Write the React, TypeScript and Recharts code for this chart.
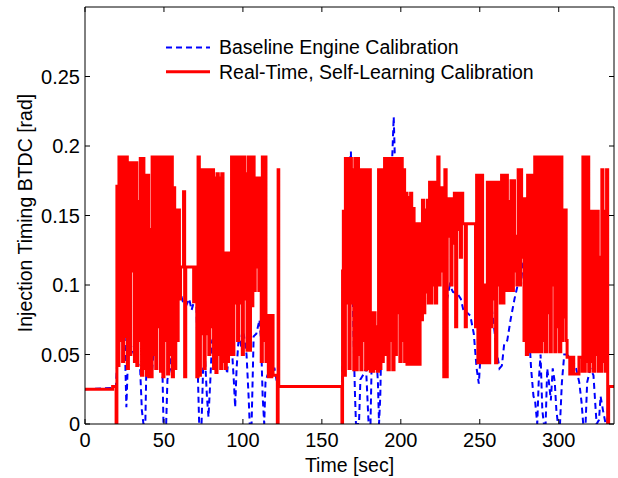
import React from 'react';
import { LineChart, Line, XAxis, YAxis } from 'recharts';

const xTicks = [0, 50, 100, 150, 200, 250, 300];
const yTicks = [0, 0.05, 0.1, 0.15, 0.2, 0.25];
const yTickLabels = ['0', '0.05', '0.1', '0.15', '0.2', '0.25'];
const seriesNames = ['Baseline Engine Calibration', 'Real-Time, Self-Learning Calibration'];
const xLabel = 'Time [sec]';
const yLabel = 'Injection Timing BTDC [rad]';

// Baseline engine calibration: [time s, injection timing rad]
const baselinePoints: [number, number][] = [
  [0, 0.025], [19.5, 0.026], [20.2, 0.04], [21, 0.06], [22, 0.08], [23.3, 0.095], [24.3, 0.113],
  [25.2, 0.06], [26.2, 0.012], [27, 0.04], [28, 0.06], [29.5, 0.055], [31, 0.05], [33, 0.045],
  [34.9, 0.04], [36, 0.01], [37, 0], [38.2, 0], [39, 0.05], [40.5, 0.04], [42.3, 0.036], [43.3, 0.05],
  [44.5, 0.085], [46.5, 0.108], [47.6, 0.095], [48.6, 0.065], [49.7, 0], [51.4, 0], [52.2, 0.032],
  [54, 0.04], [55.5, 0.085], [57, 0.098], [58.5, 0.09], [60.3, 0.095], [62, 0.088], [64, 0.085],
  [66, 0.09], [67.5, 0.082], [69, 0.088], [70.5, 0.09], [71.6, 0.03], [72.3, 0], [73.8, 0],
  [74.8, 0.04], [76, 0.048], [77.2, 0.02], [78.2, 0.005], [79.3, 0.03], [80.5, 0.06], [82, 0.063],
  [84, 0.05], [85.6, 0.06], [87.5, 0.065], [89, 0.045], [90, 0.036], [91.5, 0.06], [93, 0.055],
  [94.3, 0.03], [95.1, 0.012], [96, 0.04], [97.5, 0.065], [99, 0.055], [100.5, 0.065], [102.3, 0.05],
  [103.6, 0.02], [104.3, 0], [105.5, 0], [106.8, 0.063], [108.5, 0.065], [110.5, 0.075], [111.5, 0.06],
  [112.5, 0.02], [113.5, 0], [114.3, 0.03], [115.5, 0.035], [118, 0.04], [120, 0.04], [121.5, 0.03],
  [122.7, 0.027], [162.6, 0.027],
  [163.2, 0.045], [164.5, 0.1], [165.5, 0.14], [166.5, 0.17], [168.4, 0.196], [169.2, 0.12], [170, 0.065],
  [171, 0.02], [171.6, 0], [173.5, 0], [174.4, 0.032], [176, 0.035], [178, 0.04], [178.8, 0.02],
  [179.6, 0], [180.8, 0], [181.8, 0.06], [183, 0.045], [184.5, 0.05], [185.5, 0.03], [186.2, 0],
  [187, 0.02], [188, 0.08], [189.5, 0.1], [191.3, 0.12], [193, 0.15], [194.5, 0.19], [195.5, 0.221],
  [196.5, 0.18], [197.5, 0.16], [199, 0.137], [200.5, 0.11], [202, 0.094], [204, 0.088], [206, 0.09],
  [208, 0.085], [210, 0.09], [212.4, 0.092], [215, 0.09], [218, 0.095], [221, 0.113], [223, 0.125],
  [225, 0.142], [226.5, 0.125], [228, 0.1], [229.3, 0.09], [231, 0.1], [233, 0.095], [235.7, 0.094],
  [238, 0.09], [240, 0.08], [242, 0.08], [244, 0.078], [246.2, 0.065], [248, 0.04], [249.4, 0.029],
  [250.5, 0.05], [253, 0.07], [255, 0.085], [256.8, 0.09], [259, 0.07], [261, 0.05], [262.5, 0.04],
  [264, 0.042], [265.5, 0.058], [267.4, 0.06], [269.5, 0.075], [272, 0.09], [274, 0.1], [276.9, 0.116],
  [278, 0.1], [279.5, 0.085], [281, 0.07], [282.5, 0.04], [284, 0.02], [285, 0.017], [286.4, 0],
  [287.3, 0.03], [288.5, 0.05], [289.6, 0.01], [290.6, 0], [291.7, 0], [292.7, 0.04], [293.8, 0.03],
  [295, 0.017], [296.2, 0.04], [297.5, 0.03], [298.5, 0.01], [299.5, 0], [300.8, 0], [302, 0.03],
  [303.5, 0.05], [305, 0.05], [307, 0.048], [309, 0.045], [311, 0.04], [313, 0.03], [314.5, 0.015],
  [315.5, 0], [317, 0], [318, 0.03], [320, 0.04], [322, 0.035], [323.4, 0.01], [324, 0], [325.5, 0.003],
  [326.5, 0.02], [328, 0.01], [329.7, 0], [330.8, 0], [331.5, 0.027], [335, 0.027],
];

// Real-time self-learning calibration (held values): [time s, injection timing rad]
const learningPoints: [number, number][] = [
  [0, 0.025], [17.5, 0.027], [19.7, 0], [20.2, 0.171], [20.9, 0.042], [21.5, 0.192], [22.3, 0.06],
  [23, 0.192], [23.8, 0.045], [24.5, 0.192], [25.3, 0.063], [26, 0.192], [26.8, 0.04], [27.5, 0.188],
  [28.3, 0.05], [29, 0.188], [29.8, 0.11], [30.5, 0.188], [31.3, 0.045], [32, 0.188], [32.8, 0.042],
  [33.5, 0.16], [34.3, 0.06], [35, 0.191], [35.8, 0.035], [36.5, 0.191], [37.3, 0.04], [38, 0.179],
  [38.8, 0.035], [39.5, 0.179], [40.3, 0.034], [41, 0.14], [41.8, 0.034], [42.5, 0.192], [43.3, 0.05],
  [44, 0.192], [44.8, 0.04], [45.5, 0.192], [46.3, 0.07], [47, 0.192], [47.8, 0.038], [48.5, 0.192],
  [49.3, 0.034], [50, 0.192], [50.8, 0.06], [51.5, 0.192], [52.3, 0.036], [53, 0.192], [53.8, 0.05],
  [54.5, 0.192], [55.3, 0.034], [56, 0.17], [56.8, 0.04], [57.5, 0.154], [58.3, 0.06], [59, 0.154],
  [59.8, 0.09], [60.5, 0.113], [62.4, 0.167], [63.1, 0.034], [63.8, 0.113], [68.8, 0.088], [70.2, 0.113],
  [70.8, 0.034], [71.6, 0.192], [72.4, 0.035], [73.1, 0.183], [73.9, 0.065], [74.6, 0.183], [75.4, 0.04],
  [76.1, 0.183], [76.9, 0.065], [77.6, 0.183], [78.4, 0.05], [79.1, 0.183], [79.9, 0.07], [80.6, 0.183],
  [81.4, 0.04], [82.1, 0.177], [82.9, 0.037], [83.6, 0.18], [84.4, 0.05], [85.1, 0.177], [85.9, 0.04],
  [86.6, 0.18], [87.4, 0.045], [88.1, 0.123], [88.8, 0.04], [89.5, 0.123], [90.2, 0.045], [90.9, 0.123],
  [91.6, 0.05], [92.2, 0.123], [92.8, 0.192], [93.6, 0.05],
  [94.3, 0.192], [95.1, 0.087], [95.8, 0.192], [96.6, 0.06], [97.3, 0.192], [98.1, 0.087], [98.8, 0.192],
  [99.6, 0.05], [100.3, 0.192], [101.1, 0.09], [101.8, 0.18], [102.6, 0.053], [103.3, 0.192],
  [104.1, 0.053], [104.8, 0.192], [105.6, 0.085], [106.3, 0.192], [107.1, 0.096], [107.8, 0.177],
  [108.6, 0.113], [109.3, 0.177], [110.1, 0.096], [110.8, 0.177], [111.6, 0.045], [112.3, 0.192],
  [113.1, 0.06], [113.8, 0.192], [114.6, 0.045], [115.3, 0.078], [116.1, 0.034], [116.8, 0.078],
  [117.6, 0.034], [118.3, 0.078], [119.1, 0.035], [121.8, 0], [122.3, 0.183], [122.7, 0.027],
  [162.7, 0], [163.1, 0.11], [163.6, 0.153], [164.2, 0.035], [164.9, 0.191], [165.7, 0.087],
  [166.4, 0.191], [167.2, 0.04], [167.9, 0.191], [168.7, 0.087], [169.4, 0.183], [170.2, 0.039],
  [170.9, 0.191], [171.7, 0.039], [172.4, 0.191], [173.2, 0.05], [173.9, 0.183], [174.7, 0.039],
  [175.4, 0.183], [176.2, 0.06], [176.9, 0.183], [177.7, 0.039], [178.4, 0.183], [179.2, 0.04],
  [179.9, 0.183], [180.7, 0.038], [181.4, 0.08], [182.2, 0.038], [182.9, 0.08], [183.7, 0.04],
  [184.4, 0.07], [185.2, 0.038], [185.9, 0.183], [186.7, 0.04], [187.4, 0.183], [188.2, 0.045],
  [188.9, 0.08], [189.7, 0.191], [190.4, 0.05], [191.2, 0.191], [191.9, 0.039], [192.7, 0.191],
  [193.4, 0.06], [194.2, 0.191], [194.9, 0.039], [195.7, 0.191], [196.4, 0.05], [197.2, 0.191],
  [197.9, 0.08], [198.7, 0.191], [199.4, 0.045], [200.2, 0.191], [200.9, 0.06], [201.7, 0.183],
  [202.4, 0.045], [203.2, 0.166], [203.9, 0.043], [204.7, 0.163], [205.4, 0.043], [206.2, 0.166],
  [206.9, 0.043], [207.7, 0.155], [208.4, 0.043], [209.2, 0.144], [209.9, 0.043], [210.7, 0.144],
  [211.4, 0.043], [212.2, 0.144], [212.9, 0.075], [213.7, 0.161], [214.4, 0.08], [215.2, 0.154],
  [215.9, 0.095], [216.7, 0.161], [217.4, 0.087], [218.2, 0.174], [218.9, 0.087], [219.7, 0.174],
  [220.4, 0.1], [221.2, 0.174], [221.9, 0.087], [222.7, 0.174], [223.4, 0.192], [224.2, 0.1],
  [224.9, 0.17], [225.7, 0.11], [226.4, 0.17], [227.2, 0.034], [227.9, 0.183], [228.7, 0.034],
  [229.4, 0.162], [230.2, 0.135], [230.9, 0.162], [231.7, 0.1], [232.4, 0.162], [233.2, 0.13],
  [233.9, 0.166], [234.7, 0.07], [235.4, 0.166], [236.2, 0.14], [236.9, 0.166], [237.7, 0.12],
  [238.4, 0.166], [239.2, 0.144], [240.8, 0.07], [241.5, 0.144], [247.3, 0.07], [248, 0.179],
  [248.8, 0.044], [249.5, 0.179], [250.3, 0.044], [251, 0.179], [251.8, 0.1], [252.5, 0.044],
  [253.3, 0.1], [254, 0.044], [254.8, 0.174], [255.5, 0.044], [256.3, 0.174], [257, 0.07],
  [257.8, 0.174], [258.5, 0.09], [259.3, 0.174], [260, 0.044], [260.8, 0.174], [261.5, 0.1],
  [262.3, 0.174], [263, 0.087], [263.8, 0.179], [264.5, 0.087], [265.3, 0.179], [266, 0.096],
  [266.8, 0.179], [267.5, 0.096], [268.3, 0.16], [269, 0.096], [269.8, 0.175], [270.5, 0.096],
  [271.3, 0.175], [272, 0.11], [272.8, 0.135], [273.5, 0.1], [274.3, 0.183], [275, 0.1],
  [275.8, 0.183], [276.5, 0.12], [277.3, 0.162], [278, 0.06], [278.8, 0.162], [279.5, 0.05],
  [280.3, 0.179], [281, 0.052], [281.8, 0.179], [282.5, 0.052], [283.3, 0.179], [284, 0.052],
  [284.8, 0.192], [285.5, 0.052], [286.3, 0.192], [287, 0.052], [287.8, 0.192], [288.5, 0.052],
  [289.3, 0.192], [290, 0.06], [290.8, 0.192], [291.5, 0.052], [292.3, 0.192], [293, 0.08],
  [293.8, 0.192], [294.5, 0.052], [295.3, 0.192], [296, 0.1], [296.8, 0.192], [297.5, 0.052],
  [298.3, 0.192], [299, 0.07], [299.8, 0.192], [300.5, 0.052], [301.3, 0.192], [302, 0.06],
  [302.6, 0.154], [303.3, 0.077], [304, 0.154], [304.7, 0.06], [305.3, 0.048], [307, 0.036],
  [308.2, 0.048], [309.5, 0.036], [312.8, 0.048], [314.8, 0.038], [315.3, 0.192], [316, 0.038],
  [316.8, 0.192], [317.5, 0.045], [318.3, 0.192], [319, 0.038], [319.8, 0.153], [320.5, 0.045],
  [321.3, 0.153], [322, 0.038], [322.8, 0.153], [323.5, 0.05], [324.3, 0.153], [325, 0.038],
  [325.8, 0.12], [326.6, 0.038], [327.3, 0.183], [328, 0.045], [328.8, 0.153], [329.5, 0.038],
  [330.3, 0.183], [331, 0], [331.6, 0.027], [335, 0.027],
];

const baselineData = baselinePoints.map(([t, v]) => ({ t, v }));
const learningData = learningPoints.map(([t, v]) => ({ t, v }));

const FONT = '"Liberation Sans", Arial, Helvetica, sans-serif';
const TICK_FONT = 20;

const BottomTick = (props: any) => {
  const { x, y, payload } = props;
  return (
    <g>
      <line x1={x} y1={y} x2={x} y2={y - 5} stroke="#000" strokeWidth={1} />
      <text x={x} y={y + 9} dy="0.71em" textAnchor="middle" fontSize={TICK_FONT} fontFamily={FONT} fill="#000">
        {payload.value}
      </text>
    </g>
  );
};

const TopTick = (props: any) => {
  const { x, y } = props;
  return <line x1={x} y1={y} x2={x} y2={y + 5} stroke="#000" strokeWidth={1} />;
};

const LeftTick = (props: any) => {
  const { x, y, payload } = props;
  return (
    <g>
      <line x1={x} y1={y} x2={x + 5} y2={y} stroke="#000" strokeWidth={1} />
      <text x={x - 5} y={y} dy="0.355em" textAnchor="end" fontSize={TICK_FONT} fontFamily={FONT} fill="#000">
        {yTickLabels[yTicks.indexOf(payload.value)] ?? String(payload.value)}
      </text>
    </g>
  );
};

const RightTick = (props: any) => {
  const { x, y } = props;
  return <line x1={x} y1={y} x2={x - 5} y2={y} stroke="#000" strokeWidth={1} />;
};

export default function App() {
  return (
    <div style={{ position: 'absolute', left: 0, top: 0, width: 618, height: 478, background: '#fff' }}>
      <LineChart width={618} height={478} margin={{ top: 6, right: 3, bottom: 0, left: 0 }}>
        <XAxis
          xAxisId="bottom"
          dataKey="t"
          type="number"
          domain={[0, 335]}
          ticks={xTicks}
          interval={0}
          allowDataOverflow
          height={54}
          tickSize={0}
          tickMargin={0}
          tickLine={false}
          axisLine={{ stroke: '#000', strokeWidth: 1 }}
          tick={<BottomTick />}
        />
        <XAxis
          xAxisId="top"
          orientation="top"
          dataKey="t"
          type="number"
          domain={[0, 335]}
          ticks={xTicks}
          interval={0}
          allowDataOverflow
          height={1}
          tickSize={0}
          tickMargin={0}
          tickLine={false}
          axisLine={{ stroke: '#000', strokeWidth: 1 }}
          tick={<TopTick />}
        />
        <YAxis
          yAxisId="left"
          type="number"
          domain={[0, 0.3]}
          ticks={yTicks}
          interval={0}
          allowDataOverflow
          width={85}
          tickSize={0}
          tickMargin={0}
          tickLine={false}
          axisLine={{ stroke: '#000', strokeWidth: 1 }}
          tick={<LeftTick />}
        />
        <YAxis
          yAxisId="right"
          orientation="right"
          type="number"
          domain={[0, 0.3]}
          ticks={yTicks}
          interval={0}
          allowDataOverflow
          width={1}
          tickSize={0}
          tickMargin={0}
          tickLine={false}
          axisLine={{ stroke: '#000', strokeWidth: 1 }}
          tick={<RightTick />}
        />
        <Line
          xAxisId="bottom"
          yAxisId="left"
          data={baselineData}
          dataKey="v"
          type="linear"
          stroke="#0000ff"
          strokeWidth={2}
          strokeDasharray="6 4"
          dot={false}
          activeDot={false}
          isAnimationActive={false}
          name={seriesNames[0]}
        />
        <Line
          xAxisId="bottom"
          yAxisId="left"
          data={learningData}
          dataKey="v"
          type="stepAfter"
          stroke="#ff0000"
          strokeWidth={3}
          dot={false}
          activeDot={false}
          isAnimationActive={false}
          name={seriesNames[1]}
        />
      </LineChart>
      <svg
        width={618}
        height={478}
        style={{ position: 'absolute', left: 0, top: 0, pointerEvents: 'none' }}
      >
        <line x1={166} y1={47.5} x2={210} y2={47.5} stroke="#0000ff" strokeWidth={2} strokeDasharray="6 4" />
        <text x={219} y={47.5} dy="0.355em" fontSize={19.5} fontFamily={FONT} fill="#000">{seriesNames[0]}</text>
        <line x1={166} y1={71.7} x2={210} y2={71.7} stroke="#ff0000" strokeWidth={3} />
        <text x={219} y={71.7} dy="0.355em" fontSize={19.5} fontFamily={FONT} fill="#000">{seriesNames[1]}</text>
        <text x={349.5} y={465} dy="0.355em" textAnchor="middle" fontSize={19.5} fontFamily={FONT} fill="#000">{xLabel}</text>
        <text
          x={25}
          y={213}
          dy="0.355em"
          textAnchor="middle"
          fontSize={19.5}
          fontFamily={FONT}
          fill="#000"
          transform="rotate(-90 25 213)"
        >
          {yLabel}
        </text>
      </svg>
    </div>
  );
}
